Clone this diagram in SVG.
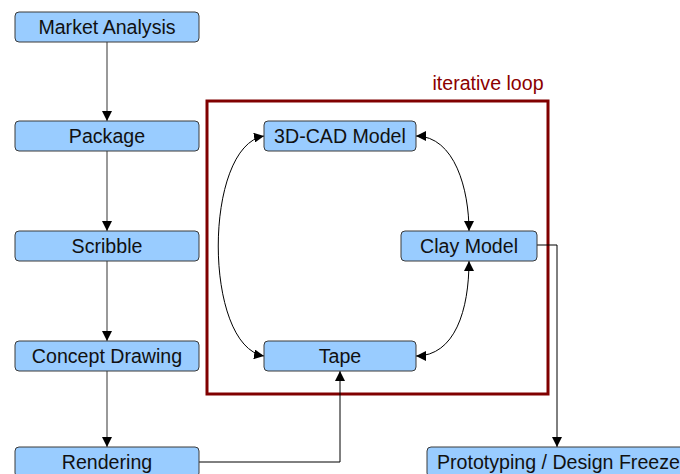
<svg xmlns="http://www.w3.org/2000/svg" width="680" height="474" viewBox="0 0 680 474">
<style>
.box{fill:#99ccff;stroke:#3a3a3a;stroke-width:1}
.lbl{font-family:"Liberation Sans",Arial,sans-serif;font-size:19.6px;fill:#111;text-anchor:middle}
.edge{fill:none;stroke:#555;stroke-width:1.2}
.curve{fill:none;stroke:#000;stroke-width:1}
</style>
<defs>
<marker id="ah" viewBox="0 0 10 10" refX="10" refY="5" markerWidth="10" markerHeight="10" markerUnits="userSpaceOnUse" orient="auto-start-reverse">
<path d="M0,0 L10,5 L0,10 Z" fill="#000"/>
</marker>
</defs>
<rect x="0" y="0" width="680" height="474" fill="#fff"/>
<g id="loop">
<rect x="207" y="101" width="341" height="293" fill="none" stroke="#800000" stroke-width="3"/>
<text x="488" y="90" style="font-family:'Liberation Sans',Arial,sans-serif;font-size:19.6px;fill:#8b0000;text-anchor:middle">iterative loop</text>
</g>
<g id="connectors">
<path class="edge" d="M107,42 V121" marker-end="url(#ah)"/>
<path class="edge" d="M107,151 V231" marker-end="url(#ah)"/>
<path class="edge" d="M107,261 V341" marker-end="url(#ah)"/>
<path class="edge" d="M107,371 V447" marker-end="url(#ah)"/>
<path class="curve" d="M199,462 H340 V371" marker-end="url(#ah)"/>
<path class="curve" d="M537,245 H557 V447" marker-end="url(#ah)"/>
<path class="curve" d="M416,136 C455,136 469,190 469,231" marker-start="url(#ah)" marker-end="url(#ah)"/>
<path class="curve" d="M469,261 C469,310 455,356 416,356" marker-start="url(#ah)" marker-end="url(#ah)"/>
<path class="curve" d="M264,136 C203,146 203,346 264,356" marker-start="url(#ah)" marker-end="url(#ah)"/>
</g>
<g id="market"><rect class="box" x="15" y="12" width="184" height="30" rx="4"/><text class="lbl" x="107" y="34">Market Analysis</text></g>
<g id="package"><rect class="box" x="15" y="121" width="184" height="30" rx="4"/><text class="lbl" x="107" y="143">Package</text></g>
<g id="scribble"><rect class="box" x="15" y="231" width="184" height="30" rx="4"/><text class="lbl" x="107" y="253">Scribble</text></g>
<g id="concept"><rect class="box" x="15" y="341" width="184" height="30" rx="4"/><text class="lbl" x="107" y="363">Concept Drawing</text></g>
<g id="rendering"><rect class="box" x="15" y="447" width="184" height="30" rx="4"/><text class="lbl" x="107" y="469">Rendering</text></g>
<g id="cad"><rect class="box" x="264" y="121" width="152" height="30" rx="4"/><text class="lbl" x="340" y="143">3D-CAD Model</text></g>
<g id="clay"><rect class="box" x="401" y="231" width="136" height="30" rx="4"/><text class="lbl" x="469" y="253">Clay Model</text></g>
<g id="tape"><rect class="box" x="264" y="341" width="152" height="30" rx="4"/><text class="lbl" x="340" y="363">Tape</text></g>
<g id="proto"><rect class="box" x="427" y="447" width="265" height="30" rx="4"/><text class="lbl" x="437" y="469" style="text-anchor:start">Prototyping / Design Freeze</text></g>
</svg>
